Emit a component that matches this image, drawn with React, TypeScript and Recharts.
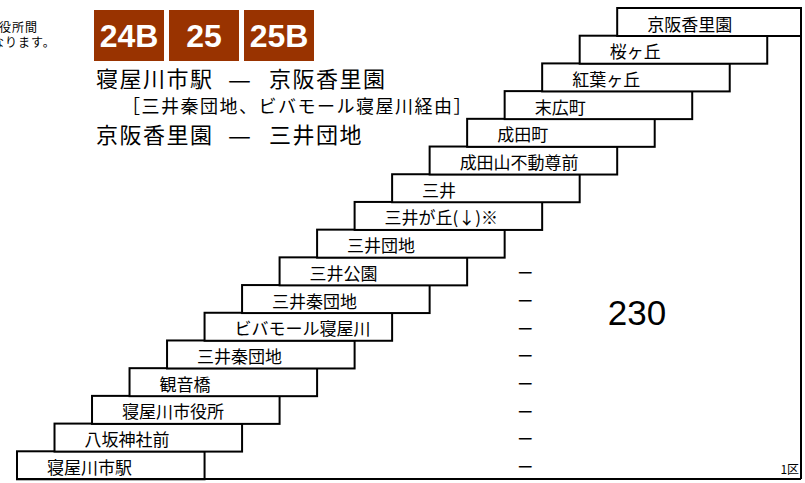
import React from 'react';
import { ComposedChart, Bar, XAxis, YAxis, ReferenceLine, ReferenceDot } from 'recharts';

// Stations, bottom (origin) to top
const stations = [
  '寝屋川市駅',
  '八坂神社前',
  '寝屋川市役所',
  '観音橋',
  '三井秦団地',
  'ビバモール寝屋川',
  '三井秦団地',
  '三井公園',
  '三井団地',
  '三井が丘(↓)※',
  '三井',
  '成田山不動尊前',
  '成田町',
  '末広町',
  '紅葉ヶ丘',
  '桜ヶ丘',
  '京阪香里園',
];
// staircase span of each station box (in stop steps)
const stageFrom = [0, 1, 2, 3, 4, 5, 6, 7, 8, 9, 10, 11, 12, 13, 14, 15, 16];
const stageTo = [5, 6, 7, 8, 9, 10, 11, 12, 13, 14, 15, 16, 17, 18, 19, 20, 20.9];
const TABLE_END = 20.9;

// fare column contents
const dashRows = [0, 1, 2, 3, 4, 5, 6, 7];
const dashLabel = 'ー';
const DASH_POS = 13.55;
const fareLabel = '230';
const FARE_POS = 16.53;
const FARE_ROW = 6;
const zoneLabel = '1区';
const ZONE_POS = 20.85;

// header
const routes = ['24B', '25', '25B'];
const title1 = ['寝屋川市駅', '—', '京阪香里園'];
const title2 = '［三井秦団地、ビバモール寝屋川経由］';
const title3 = ['京阪香里園', '—', '三井団地'];
const note1 = '役所間';
const note2 = 'なります。';

const data = stations.map((name, i) => ({
  id: `s${i}`,
  name,
  span: [stageFrom[i], stageTo[i]],
}));

const JP = "'Noto Sans CJK JP', 'Noto Sans', sans-serif";
const LAT = "'Liberation Sans', Arial, sans-serif";

const StationBox = (props: any) => {
  const { x, y, width, height, payload } = props;
  return (
    <g>
      <rect x={x} y={y} width={width} height={height} fill="#fff" stroke="#000" strokeWidth={2} />
      <text
        x={x + 30}
        y={y + height / 2 + 1}
        dominantBaseline="central"
        fontFamily={JP}
        fontSize={17}
        fill="#000"
      >
        {payload.name}
      </text>
    </g>
  );
};

const Header = () => (
  <svg width={805} height={483} style={{ position: 'absolute', left: 0, top: 0, pointerEvents: 'none' }}>
    <text x={-1} y={32} fontFamily={JP} fontSize={12} letterSpacing={1} fill="#000">{note1}</text>
    <text x={-8} y={47} fontFamily={JP} fontSize={12} letterSpacing={1} fill="#000">{note2}</text>
    {routes.map((r, i) => (
      <g key={r}>
        <rect x={94 + i * 75} y={10} width={70} height={51} fill="#993300" />
        <text
          x={129 + i * 75}
          y={36}
          textAnchor="middle"
          dominantBaseline="central"
          fontFamily={LAT}
          fontWeight="bold"
          fontSize={32}
          fill="#fff"
        >
          {r}
        </text>
      </g>
    ))}
    <g fontFamily={JP} fontSize={22} letterSpacing={1.5} fill="#000">
      <text x={96} y={77} dominantBaseline="central">{title1[0]}</text>
      <text x={228} y={78} dominantBaseline="central" letterSpacing={0} textLength={23} lengthAdjust="spacingAndGlyphs">
        {title1[1]}
      </text>
      <text x={269} y={77} dominantBaseline="central">{title1[2]}</text>
      <text x={96} y={133} dominantBaseline="central">{title3[0]}</text>
      <text x={228} y={134} dominantBaseline="central" letterSpacing={0} textLength={23} lengthAdjust="spacingAndGlyphs">
        {title3[1]}
      </text>
      <text x={269} y={133} dominantBaseline="central">{title3[2]}</text>
    </g>
    <text x={122} y={105} dominantBaseline="central" fontFamily={JP} fontSize={18} letterSpacing={1.5} fill="#000">
      {title2}
    </text>
  </svg>
);

export default function App() {
  return (
    <div style={{ position: 'absolute', left: 0, top: 0, width: 805, height: 483, background: '#fff' }}>
      <ComposedChart
        width={805}
        height={483}
        data={data}
        layout="vertical"
        barCategoryGap={0}
        barGap={0}
        margin={{ top: 8, right: 4, bottom: 3, left: 17 }}
      >
        <XAxis
          type="number"
          domain={[0, TABLE_END]}
          tick={false}
          tickLine={false}
          height={1}
          axisLine={{ stroke: '#000', strokeWidth: 2 }}
        />
        <YAxis type="category" dataKey="id" hide reversed />
        <Bar dataKey="span" isAnimationActive={false} shape={StationBox} />
        <ReferenceLine x={TABLE_END} stroke="#000" strokeWidth={2} />
        {dashRows.map((r) => (
          <ReferenceDot
            key={`d${r}`}
            x={DASH_POS}
            y={`s${r}`}
            r={0}
            shape={(p: any) => (
              <text x={p.cx} y={p.cy + 1} textAnchor="middle" dominantBaseline="central" fontFamily={JP} fontSize={16} fill="#000">
                {dashLabel}
              </text>
            )}
          />
        ))}
        <ReferenceDot
          x={FARE_POS}
          y={`s${FARE_ROW}`}
          r={0}
          shape={(p: any) => (
            <text x={p.cx} y={p.cy + 14} textAnchor="middle" dominantBaseline="central" fontFamily={LAT} fontSize={35} fill="#000">
              {fareLabel}
            </text>
          )}
        />
        <ReferenceDot
          x={ZONE_POS}
          y="s0"
          r={0}
          shape={(p: any) => (
            <text x={p.cx} y={p.cy + 3} textAnchor="end" dominantBaseline="central" fontFamily={JP} fontSize={12} fill="#000">
              {zoneLabel}
            </text>
          )}
        />
      </ComposedChart>
      <Header />
    </div>
  );
}
